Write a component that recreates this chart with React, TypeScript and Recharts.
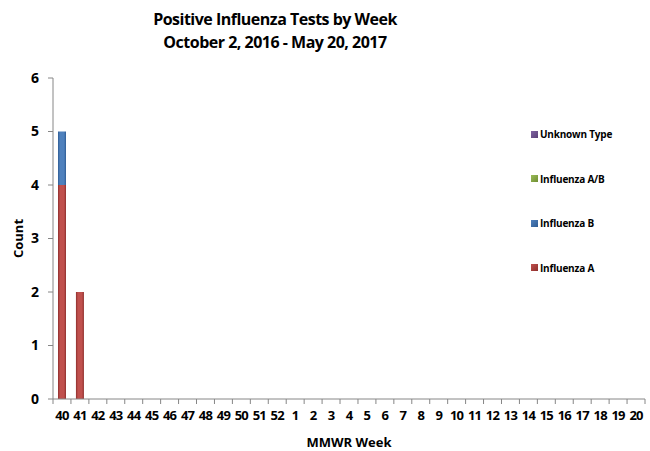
import { BarChart, Bar, XAxis, YAxis } from 'recharts'

const weeks = ['40', '41', '42', '43', '44', '45', '46', '47', '48', '49', '50', '51', '52', '1', '2', '3', '4', '5', '6', '7', '8', '9', '10', '11', '12', '13', '14', '15', '16', '17', '18', '19', '20']
const influenzaA = [4, 2, 0, 0, 0, 0, 0, 0, 0, 0, 0, 0, 0, 0, 0, 0, 0, 0, 0, 0, 0, 0, 0, 0, 0, 0, 0, 0, 0, 0, 0, 0, 0]
const influenzaB = [1, 0, 0, 0, 0, 0, 0, 0, 0, 0, 0, 0, 0, 0, 0, 0, 0, 0, 0, 0, 0, 0, 0, 0, 0, 0, 0, 0, 0, 0, 0, 0, 0]
const influenzaAB = [0, 0, 0, 0, 0, 0, 0, 0, 0, 0, 0, 0, 0, 0, 0, 0, 0, 0, 0, 0, 0, 0, 0, 0, 0, 0, 0, 0, 0, 0, 0, 0, 0]
const unknownType = [0, 0, 0, 0, 0, 0, 0, 0, 0, 0, 0, 0, 0, 0, 0, 0, 0, 0, 0, 0, 0, 0, 0, 0, 0, 0, 0, 0, 0, 0, 0, 0, 0]
const yTicks = [0, 1, 2, 3, 4, 5, 6]

const series = [
  { key: 'a', name: 'Influenza A', color: '#C0504D', dark: '#8E2F2D' },
  { key: 'b', name: 'Influenza B', color: '#4F81BD', dark: '#2E5C94' },
  { key: 'ab', name: 'Influenza A/B', color: '#9BBB59', dark: '#6F8F32' },
  { key: 'u', name: 'Unknown Type', color: '#8064A2', dark: '#5A4078' },
]

const data = weeks.map((w, i) => ({
  week: w,
  a: influenzaA[i],
  b: influenzaB[i],
  ab: influenzaAB[i],
  u: unknownType[i],
}))

const FONT = '"Open Sans", Lato, sans-serif'
const AXIS = '#868686'

function WeekTick(props: any) {
  const { x, y, payload, index, width, visibleTicksCount } = props
  const half = width / visibleTicksCount / 2
  const axisY = y - 8
  return (
    <g>
      <line x1={x - half} x2={x - half} y1={axisY} y2={axisY + 5} stroke={AXIS} />
      {index === visibleTicksCount - 1 && (
        <line x1={x + half} x2={x + half} y1={axisY} y2={axisY + 5} stroke={AXIS} />
      )}
      <text x={x} y={y + 13} textAnchor="middle" fontSize={13} fontWeight={700} letterSpacing={-0.8} fill="#000" fontFamily={FONT}>
        {payload.value}
      </text>
    </g>
  )
}

function LegendBox() {
  const items = [...series].reverse()
  return (
    <div style={{ position: 'absolute', left: 531, top: 112, fontFamily: FONT }}>
      {items.map((s) => (
        <div key={s.key} style={{ display: 'flex', alignItems: 'center', height: 44.5 }}>
          <span
            style={{
              display: 'inline-block',
              width: 7,
              height: 7,
              background: `linear-gradient(135deg, ${s.color}, ${s.dark})`,
              marginRight: 2,
            }}
          />
          <span style={{ fontSize: 10, fontWeight: 700, color: '#000', letterSpacing: -0.2 }}>{s.name}</span>
        </div>
      ))}
    </div>
  )
}

export default function App() {
  return (
    <div style={{ position: 'absolute', left: 0, top: 0, width: 650, height: 451, background: '#fff' }}>
      <div
        style={{
          position: 'absolute',
          left: 0,
          width: 550,
          top: 8,
          textAlign: 'center',
          fontFamily: FONT,
          fontWeight: 700,
          fontSize: 16,
          letterSpacing: -0.5,
          lineHeight: '23px',
          color: '#000',
        }}
      >
        <div>Positive Influenza Tests by Week</div>
        <div>October 2, 2016 - May 20, 2017</div>
      </div>
      <BarChart
        width={650}
        height={451}
        data={data}
        margin={{ top: 78, right: 5, bottom: 0, left: 0 }}
        barSize={8}
        barCategoryGap={0}
      >
        <defs>
          {series.map((s) => (
            <linearGradient key={s.key} id={`grad-${s.key}`} x1="0" y1="0" x2="1" y2="0">
              <stop offset="0%" stopColor={s.dark} />
              <stop offset="25%" stopColor={s.color} />
              <stop offset="75%" stopColor={s.color} />
              <stop offset="100%" stopColor={s.dark} />
            </linearGradient>
          ))}
        </defs>
        <XAxis
          dataKey="week"
          interval={0}
          height={52}
          axisLine={{ stroke: AXIS }}
          tickLine={false}
          tick={<WeekTick />}
          label={{ value: 'MMWR Week', position: 'insideBottom', offset: 4, fontSize: 13, fontWeight: 700, fill: '#000', fontFamily: FONT }}
        />
        <YAxis
          width={53}
          domain={[0, 6]}
          ticks={yTicks}
          interval={0}
          axisLine={{ stroke: AXIS }}
          tickLine={{ stroke: AXIS }}
          tickSize={5}
          tickMargin={9}
          tick={{ fontSize: 14, fontWeight: 700, fill: '#000', fontFamily: FONT }}
          label={{ value: 'Count', angle: -90, position: 'insideLeft', offset: 18, fontSize: 13, fontWeight: 700, fill: '#000', fontFamily: FONT, style: { textAnchor: 'middle' } }}
        />
        {series.map((s) => (
          <Bar key={s.key} dataKey={s.key} name={s.name} stackId="flu" fill={`url(#grad-${s.key})`} isAnimationActive={false} />
        ))}
      </BarChart>
      <LegendBox />
    </div>
  )
}
